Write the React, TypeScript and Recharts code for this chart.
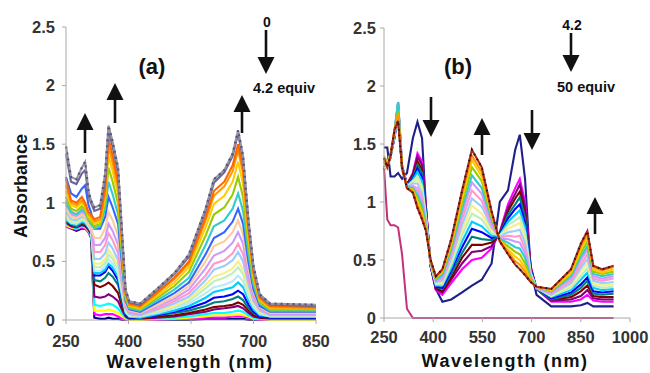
import React from "react";
import { LineChart, Line, XAxis, YAxis } from "recharts";

// ---- panel (a): 0 -> 4.2 equiv ----
const A_NM = [250, 262, 275, 288, 296, 304, 310, 318, 332, 344, 352, 362, 375, 385, 393, 402, 428, 470, 510, 545, 585, 605, 630, 650, 663, 675, 688, 700, 715, 740, 850];

const A_00 = [0.8, 0.78, 0.76, 0.78, 0.78, 0.75, 0.7, 0.02, 0.01, 0.01, 0.02, 0.01, 0.01, 0, 0, 0, 0, 0, 0, 0, 0.01, 0.01, 0.01, 0.01, 0.01, 0.01, 0, 0, 0, 0, 0];
const A_01 = [0.8, 0.78, 0.77, 0.79, 0.78, 0.75, 0.71, 0.05, 0.04, 0.05, 0.05, 0.05, 0.03, 0.01, 0, 0, 0, 0, 0.01, 0.01, 0.02, 0.02, 0.02, 0.03, 0.03, 0.03, 0.02, 0.01, 0, 0, 0];
const A_02 = [0.81, 0.79, 0.78, 0.8, 0.79, 0.76, 0.72, 0.08, 0.08, 0.08, 0.09, 0.08, 0.06, 0.03, 0.01, 0, 0, 0.01, 0.01, 0.02, 0.03, 0.04, 0.04, 0.04, 0.05, 0.04, 0.03, 0.01, 0.01, 0, 0];
const A_03 = [0.82, 0.8, 0.78, 0.8, 0.8, 0.76, 0.72, 0.13, 0.12, 0.13, 0.14, 0.13, 0.1, 0.05, 0.02, 0.01, 0.01, 0.02, 0.02, 0.03, 0.05, 0.06, 0.06, 0.07, 0.08, 0.07, 0.04, 0.02, 0.01, 0.01, 0.01];
const A_04 = [0.83, 0.8, 0.79, 0.81, 0.8, 0.77, 0.73, 0.2, 0.19, 0.2, 0.22, 0.2, 0.16, 0.08, 0.03, 0.01, 0.01, 0.02, 0.03, 0.05, 0.07, 0.09, 0.1, 0.11, 0.12, 0.1, 0.06, 0.03, 0.02, 0.01, 0.01];
const A_05 = [0.84, 0.81, 0.8, 0.82, 0.81, 0.78, 0.74, 0.3, 0.28, 0.3, 0.32, 0.29, 0.23, 0.11, 0.04, 0.01, 0.01, 0.03, 0.04, 0.06, 0.09, 0.11, 0.12, 0.13, 0.15, 0.13, 0.08, 0.04, 0.02, 0.02, 0.02];
const A_06 = [0.85, 0.82, 0.8, 0.83, 0.82, 0.79, 0.75, 0.34, 0.33, 0.36, 0.4, 0.37, 0.3, 0.15, 0.05, 0.02, 0.02, 0.04, 0.06, 0.08, 0.12, 0.15, 0.16, 0.18, 0.2, 0.17, 0.1, 0.06, 0.03, 0.02, 0.02];
const A_07 = [0.88, 0.84, 0.82, 0.86, 0.85, 0.8, 0.76, 0.38, 0.38, 0.41, 0.46, 0.42, 0.34, 0.17, 0.05, 0.02, 0.02, 0.04, 0.07, 0.1, 0.15, 0.19, 0.2, 0.22, 0.25, 0.22, 0.13, 0.07, 0.03, 0.02, 0.02];
const A_08 = [0.86, 0.82, 0.81, 0.84, 0.83, 0.79, 0.76, 0.4, 0.4, 0.43, 0.48, 0.45, 0.37, 0.19, 0.06, 0.03, 0.02, 0.05, 0.08, 0.12, 0.19, 0.24, 0.26, 0.28, 0.32, 0.28, 0.17, 0.09, 0.04, 0.03, 0.03];
const A_09 = [0.87, 0.83, 0.82, 0.85, 0.84, 0.8, 0.76, 0.42, 0.42, 0.46, 0.52, 0.48, 0.4, 0.21, 0.07, 0.03, 0.03, 0.06, 0.1, 0.14, 0.23, 0.28, 0.3, 0.33, 0.38, 0.33, 0.2, 0.11, 0.05, 0.03, 0.03];
const A_10 = [0.88, 0.84, 0.83, 0.86, 0.85, 0.8, 0.77, 0.45, 0.45, 0.49, 0.56, 0.52, 0.43, 0.23, 0.08, 0.04, 0.03, 0.07, 0.11, 0.16, 0.27, 0.33, 0.36, 0.4, 0.45, 0.39, 0.23, 0.13, 0.06, 0.03, 0.03];
const A_11 = [0.9, 0.85, 0.84, 0.87, 0.86, 0.81, 0.77, 0.48, 0.48, 0.52, 0.6, 0.55, 0.46, 0.25, 0.09, 0.04, 0.04, 0.08, 0.12, 0.18, 0.3, 0.37, 0.4, 0.44, 0.5, 0.43, 0.26, 0.14, 0.07, 0.04, 0.04];
const A_12 = [0.92, 0.86, 0.85, 0.88, 0.87, 0.82, 0.78, 0.52, 0.52, 0.57, 0.66, 0.61, 0.51, 0.28, 0.1, 0.05, 0.04, 0.09, 0.14, 0.2, 0.34, 0.43, 0.46, 0.51, 0.58, 0.5, 0.3, 0.16, 0.08, 0.04, 0.04];
const A_13 = [1.02, 0.93, 0.9, 0.95, 0.96, 0.86, 0.8, 0.58, 0.58, 0.64, 0.74, 0.68, 0.57, 0.31, 0.11, 0.06, 0.05, 0.1, 0.16, 0.23, 0.38, 0.48, 0.51, 0.57, 0.65, 0.56, 0.34, 0.18, 0.09, 0.05, 0.05];
const A_14 = [0.98, 0.9, 0.88, 0.92, 0.9, 0.84, 0.78, 0.64, 0.64, 0.7, 0.82, 0.76, 0.64, 0.35, 0.12, 0.07, 0.05, 0.12, 0.18, 0.26, 0.44, 0.55, 0.59, 0.66, 0.75, 0.65, 0.39, 0.21, 0.1, 0.05, 0.05];
const A_15 = [0.95, 0.88, 0.87, 0.9, 0.88, 0.82, 0.78, 0.7, 0.7, 0.78, 0.92, 0.85, 0.72, 0.4, 0.14, 0.08, 0.06, 0.13, 0.2, 0.29, 0.5, 0.63, 0.67, 0.75, 0.85, 0.73, 0.44, 0.24, 0.11, 0.06, 0.06];
const A_16 = [1.22, 1.08, 1.05, 1.12, 1.15, 0.98, 0.92, 0.78, 0.78, 0.88, 1.05, 0.96, 0.82, 0.45, 0.16, 0.09, 0.07, 0.15, 0.23, 0.32, 0.56, 0.7, 0.75, 0.84, 0.95, 0.82, 0.49, 0.26, 0.12, 0.07, 0.07];
const A_17 = [1.0, 0.92, 0.9, 0.94, 0.92, 0.85, 0.82, 0.78, 0.8, 0.95, 1.18, 1.07, 0.9, 0.5, 0.18, 0.1, 0.08, 0.17, 0.26, 0.36, 0.64, 0.8, 0.85, 0.95, 1.08, 0.93, 0.56, 0.3, 0.14, 0.08, 0.08];
const A_18 = [1.05, 0.95, 0.93, 0.97, 0.94, 0.86, 0.84, 0.8, 0.82, 1.0, 1.3, 1.18, 0.99, 0.55, 0.19, 0.11, 0.09, 0.19, 0.29, 0.41, 0.72, 0.9, 0.96, 1.07, 1.22, 1.05, 0.63, 0.34, 0.15, 0.09, 0.09];
const A_19 = [1.1, 0.98, 0.96, 1.0, 0.96, 0.88, 0.86, 0.82, 0.84, 1.04, 1.4, 1.27, 1.07, 0.59, 0.21, 0.12, 0.1, 0.21, 0.32, 0.45, 0.79, 0.99, 1.06, 1.18, 1.35, 1.16, 0.7, 0.37, 0.17, 0.1, 0.1];
const A_20 = [1.15, 1.0, 0.98, 1.02, 0.98, 0.9, 0.88, 0.84, 0.86, 1.08, 1.48, 1.34, 1.13, 0.62, 0.22, 0.13, 0.11, 0.23, 0.35, 0.48, 0.85, 1.06, 1.14, 1.27, 1.45, 1.25, 0.75, 0.4, 0.18, 0.11, 0.1];
const A_21 = [1.2, 1.02, 1.0, 1.05, 1.0, 0.92, 0.9, 0.86, 0.88, 1.12, 1.55, 1.4, 1.18, 0.65, 0.23, 0.14, 0.12, 0.24, 0.36, 0.5, 0.88, 1.1, 1.18, 1.32, 1.5, 1.29, 0.78, 0.41, 0.19, 0.12, 0.11];
const A_22 = [1.42, 1.18, 1.16, 1.25, 1.28, 1.06, 1.0, 0.93, 0.95, 1.2, 1.62, 1.48, 1.26, 0.7, 0.25, 0.15, 0.13, 0.26, 0.39, 0.54, 0.93, 1.17, 1.26, 1.4, 1.59, 1.37, 0.83, 0.44, 0.21, 0.13, 0.12];
const A_23 = [1.48, 1.22, 1.2, 1.3, 1.35, 1.1, 1.02, 0.96, 0.98, 1.25, 1.66, 1.52, 1.3, 0.72, 0.26, 0.16, 0.14, 0.27, 0.4, 0.56, 0.95, 1.2, 1.28, 1.42, 1.62, 1.4, 0.85, 0.46, 0.22, 0.14, 0.13];

const A_SERIES = [A_00, A_01, A_02, A_03, A_04, A_05, A_06, A_07, A_08, A_09, A_10, A_11, A_12, A_13, A_14, A_15, A_16, A_17, A_18, A_19, A_20, A_21, A_22, A_23];
const A_COLORS = ["#000080", "#ff00ff", "#ffff00", "#00ffff", "#800080", "#800000", "#008080", "#0000ff", "#00ccff", "#b8ecf4", "#bfeebb", "#f2f08c", "#99ccff", "#ff99cc", "#cc99ff", "#ffcc99", "#3366ff", "#33cccc", "#99cc00", "#ffcc00", "#ff9900", "#ff6600", "#666699", "#969696"];

// ---- panel (b): 4.2 -> 50 equiv ----
const B_NM = [250, 260, 270, 282, 293, 305, 320, 338, 352, 366, 378, 392, 408, 428, 455, 488, 518, 548, 578, 603, 628, 650, 664, 680, 697, 715, 760, 820, 850, 870, 888, 915, 950];

const B_BLANK = [1.3, 0.85, 0.8, 0.8, 0.78, 0.55, 0.08, 0, 0, 0, 0, 0, 0, 0, 0, 0, 0, 0, 0, 0, 0, 0, 0, 0, 0, 0, 0, 0, 0, 0, 0, 0, 0];
const B_START = [1.47, 1.47, 1.22, 1.22, 1.25, 1.2, 1.25, 1.55, 1.69, 1.55, 0.95, 0.45, 0.25, 0.14, 0.16, 0.22, 0.28, 0.33, 0.47, 1.0, 1.1, 1.45, 1.58, 1.2, 0.42, 0.2, 0.1, 0.1, 0.11, 0.13, 0.1, 0.1, 0.1];
const B_01 = [1.3, 1.35, 1.4, 1.55, 1.75, 1.3, 1.15, 1.25, 1.42, 1.35, 0.95, 0.45, 0.24, 0.2, 0.3, 0.42, 0.5, 0.52, 0.6, 0.74, 0.98, 1.12, 1.2, 1.0, 0.45, 0.25, 0.14, 0.14, 0.16, 0.2, 0.15, 0.14, 0.14];
const B_02 = [1.33, 1.35, 1.4, 1.56, 1.8, 1.3, 1.15, 1.24, 1.39, 1.32, 0.94, 0.45, 0.25, 0.22, 0.33, 0.47, 0.57, 0.58, 0.62, 0.73, 0.95, 1.07, 1.15, 0.96, 0.44, 0.25, 0.15, 0.16, 0.19, 0.24, 0.17, 0.16, 0.16];
const B_03 = [1.28, 1.34, 1.4, 1.57, 1.84, 1.3, 1.15, 1.23, 1.35, 1.28, 0.92, 0.46, 0.26, 0.23, 0.35, 0.52, 0.63, 0.63, 0.65, 0.73, 0.92, 1.03, 1.09, 0.91, 0.43, 0.25, 0.16, 0.18, 0.23, 0.28, 0.19, 0.18, 0.18];
const B_04 = [1.35, 1.36, 1.42, 1.56, 1.78, 1.28, 1.14, 1.21, 1.32, 1.25, 0.91, 0.46, 0.27, 0.25, 0.38, 0.56, 0.7, 0.68, 0.67, 0.72, 0.89, 0.98, 1.04, 0.87, 0.42, 0.25, 0.16, 0.2, 0.26, 0.32, 0.21, 0.2, 0.21];
const B_05 = [1.3, 1.32, 1.38, 1.6, 1.86, 1.32, 1.14, 1.2, 1.29, 1.21, 0.89, 0.46, 0.27, 0.26, 0.41, 0.61, 0.77, 0.74, 0.69, 0.72, 0.86, 0.94, 0.98, 0.82, 0.41, 0.26, 0.17, 0.22, 0.29, 0.35, 0.23, 0.22, 0.23];
const B_06 = [1.36, 1.33, 1.4, 1.57, 1.72, 1.3, 1.14, 1.19, 1.26, 1.18, 0.88, 0.47, 0.28, 0.28, 0.43, 0.66, 0.83, 0.79, 0.71, 0.71, 0.83, 0.89, 0.93, 0.78, 0.4, 0.26, 0.18, 0.24, 0.33, 0.39, 0.26, 0.24, 0.25];
const B_07 = [1.31, 1.34, 1.41, 1.58, 1.8, 1.31, 1.13, 1.18, 1.22, 1.14, 0.87, 0.47, 0.29, 0.29, 0.46, 0.71, 0.9, 0.85, 0.73, 0.71, 0.8, 0.84, 0.87, 0.74, 0.39, 0.26, 0.19, 0.26, 0.36, 0.43, 0.28, 0.26, 0.27];
const B_08 = [1.29, 1.31, 1.39, 1.6, 1.85, 1.29, 1.13, 1.17, 1.19, 1.11, 0.85, 0.47, 0.3, 0.31, 0.49, 0.75, 0.97, 0.9, 0.76, 0.7, 0.77, 0.8, 0.82, 0.69, 0.38, 0.26, 0.19, 0.28, 0.4, 0.47, 0.3, 0.28, 0.29];
const B_09 = [1.37, 1.32, 1.4, 1.59, 1.76, 1.3, 1.13, 1.16, 1.16, 1.07, 0.84, 0.48, 0.31, 0.32, 0.51, 0.8, 1.03, 0.96, 0.78, 0.7, 0.74, 0.75, 0.76, 0.65, 0.37, 0.26, 0.2, 0.3, 0.43, 0.51, 0.32, 0.3, 0.31];
const B_10 = [1.32, 1.33, 1.42, 1.61, 1.82, 1.31, 1.13, 1.14, 1.12, 1.04, 0.82, 0.48, 0.32, 0.34, 0.54, 0.85, 1.1, 1.01, 0.8, 0.69, 0.71, 0.7, 0.71, 0.6, 0.36, 0.26, 0.21, 0.32, 0.46, 0.55, 0.34, 0.32, 0.34];
const B_11 = [1.34, 1.31, 1.4, 1.6, 1.74, 1.3, 1.13, 1.13, 1.09, 1.0, 0.81, 0.49, 0.32, 0.35, 0.57, 0.9, 1.17, 1.07, 0.82, 0.68, 0.68, 0.66, 0.65, 0.56, 0.35, 0.26, 0.22, 0.34, 0.5, 0.59, 0.36, 0.34, 0.36];
const B_12 = [1.38, 1.31, 1.39, 1.62, 1.86, 1.3, 1.13, 1.12, 1.06, 0.97, 0.8, 0.49, 0.33, 0.37, 0.59, 0.94, 1.23, 1.12, 0.85, 0.68, 0.65, 0.61, 0.6, 0.52, 0.34, 0.27, 0.23, 0.36, 0.53, 0.62, 0.38, 0.36, 0.38];
const B_13 = [1.35, 1.3, 1.41, 1.61, 1.78, 1.3, 1.12, 1.11, 1.03, 0.93, 0.78, 0.49, 0.34, 0.39, 0.62, 0.99, 1.3, 1.18, 0.87, 0.67, 0.62, 0.57, 0.55, 0.47, 0.33, 0.27, 0.23, 0.38, 0.56, 0.66, 0.4, 0.38, 0.4];
const B_14 = [1.4, 1.32, 1.4, 1.61, 1.72, 1.3, 1.12, 1.1, 1.0, 0.9, 0.77, 0.5, 0.35, 0.4, 0.64, 1.03, 1.36, 1.22, 0.89, 0.67, 0.59, 0.53, 0.5, 0.43, 0.32, 0.27, 0.24, 0.39, 0.59, 0.7, 0.42, 0.39, 0.42];
const B_15 = [1.36, 1.3, 1.4, 1.62, 1.76, 1.3, 1.12, 1.09, 0.97, 0.88, 0.76, 0.5, 0.35, 0.41, 0.66, 1.07, 1.4, 1.26, 0.9, 0.66, 0.57, 0.49, 0.46, 0.4, 0.32, 0.27, 0.25, 0.41, 0.62, 0.72, 0.44, 0.41, 0.44];
const B_END = [1.38, 1.3, 1.4, 1.62, 1.7, 1.3, 1.12, 1.08, 0.95, 0.85, 0.75, 0.5, 0.36, 0.42, 0.68, 1.1, 1.45, 1.3, 0.92, 0.66, 0.55, 0.46, 0.42, 0.37, 0.31, 0.27, 0.25, 0.42, 0.64, 0.75, 0.45, 0.42, 0.45];

const B_SERIES = [B_START, B_01, B_02, B_03, B_04, B_05, B_06, B_07, B_08, B_09, B_10, B_11, B_12, B_13, B_14, B_15, B_END];
const B_COLORS = ["#1f1f8a", "#ff00ff", "#800080", "#800000", "#008080", "#0000ff", "#00ccff", "#bfeebb", "#f2f08c", "#99ccff", "#ff99cc", "#cc99ff", "#33cccc", "#99cc00", "#ffcc00", "#ff9900", "#b0281c"];

const Y_TICKS = [0, 0.5, 1, 1.5, 2, 2.5];
const A_TICKS = [250, 400, 550, 700, 850];
const B_TICKS = [250, 400, 550, 700, 850, 1000];

const FONT = "'Liberation Sans', Arial, Helvetica, sans-serif";
const tickStyle = { fontSize: 16.5, fontWeight: "bold", fill: "#333", fontFamily: FONT };
const axisGrey = { stroke: "#a8a8a8" };

function toRows(nm: number[], series: number[][]) {
  return nm.map((w, i) => {
    const row: Record<string, number> = { nm: w };
    series.forEach((s, j) => {
      row["s" + j] = s[i];
    });
    return row;
  });
}

const rowsA = toRows(A_NM, A_SERIES);
const rowsB = toRows(B_NM, [...B_SERIES, B_BLANK]);

function Arrow({ x, from, to }: { x: number; from: number; to: number }) {
  const dir = to > from ? 1 : -1;
  const head = 17;
  const base = to - dir * head;
  return (
    <g>
      <line x1={x} y1={from} x2={x} y2={base} stroke="#111" strokeWidth={2.6} />
      <polygon points={`${x - 8.5},${base} ${x + 8.5},${base} ${x},${to}`} fill="#111" />
    </g>
  );
}

export default function App() {
  return (
    <div style={{ position: "absolute", left: 0, top: 0, width: 650, height: 373, background: "#fff", overflow: "hidden" }}>
      <div style={{ position: "absolute", left: 0, top: 0 }}>
        <LineChart width={340} height={373} data={rowsA} margin={{ top: 27, right: 24, bottom: 23, left: 6 }}>
          <XAxis
            type="number"
            dataKey="nm"
            domain={[250, 850]}
            ticks={A_TICKS}
            interval={0}
            height={30}
            tickSize={4}
            tickMargin={11}
            axisLine={axisGrey}
            tickLine={axisGrey}
            tick={tickStyle}
          />
          <YAxis
            type="number"
            domain={[0, 2.5]}
            ticks={Y_TICKS}
            interval={0}
            width={60}
            tickSize={4}
            tickMargin={7}
            axisLine={axisGrey}
            tickLine={axisGrey}
            tick={tickStyle}
          />
          {A_SERIES.map((_, j) => (
            <Line
              key={j}
              dataKey={"s" + j}
              type="linear"
              stroke={A_COLORS[j]}
              strokeWidth={2.1}
              dot={false}
              isAnimationActive={false}
            />
          ))}
          <Line
            dataKey={"s" + (A_SERIES.length - 1)}
            type="linear"
            stroke="#5b4d8c"
            strokeWidth={2.2}
            strokeDasharray="2 4"
            dot={false}
            isAnimationActive={false}
          />
        </LineChart>
      </div>

      <div style={{ position: "absolute", left: 330, top: 0 }}>
        <LineChart width={320} height={373} data={rowsB} margin={{ top: 28, right: 20, bottom: 25, left: 4 }}>
          <XAxis
            type="number"
            dataKey="nm"
            domain={[250, 1000]}
            ticks={B_TICKS}
            interval={0}
            height={30}
            tickSize={4}
            tickMargin={9}
            axisLine={axisGrey}
            tickLine={axisGrey}
            tick={tickStyle}
          />
          <YAxis
            type="number"
            domain={[0, 2.5]}
            ticks={Y_TICKS}
            interval={0}
            width={50}
            tickSize={4}
            tickMargin={4}
            axisLine={axisGrey}
            tickLine={axisGrey}
            tick={tickStyle}
          />
          <Line
            dataKey={"s" + B_SERIES.length}
            type="linear"
            stroke="#c4307a"
            strokeWidth={2}
            dot={false}
            isAnimationActive={false}
          />
          {B_SERIES.map((_, j) => (
            <Line
              key={j}
              dataKey={"s" + j}
              type="linear"
              stroke={B_COLORS[j]}
              strokeWidth={2.1}
              dot={false}
              isAnimationActive={false}
            />
          ))}
          <Line
            dataKey={"s" + (B_SERIES.length - 1)}
            type="linear"
            stroke="#1a1a1a"
            strokeWidth={2}
            strokeDasharray="1.5 4"
            dot={false}
            isAnimationActive={false}
          />
        </LineChart>
      </div>

      <svg width={650} height={373} style={{ position: "absolute", left: 0, top: 0, pointerEvents: "none" }}>
        <g fontFamily={FONT} fontWeight="bold" fill="#111">
          <text x={27} y={186} fontSize={18} textAnchor="middle" transform="rotate(-90 27 186)">
            Absorbance
          </text>
          <text x={190} y={368} fontSize={18} textAnchor="middle" letterSpacing={1.5}>
            Wavelength (nm)
          </text>
          <text x={505} y={367} fontSize={18} textAnchor="middle" letterSpacing={1.5}>
            Wavelength (nm)
          </text>
          <text x={152} y={74} fontSize={22} textAnchor="middle">(a)</text>
          <text x={458} y={74} fontSize={22} textAnchor="middle">(b)</text>

          <text x={267} y={27} fontSize={14} textAnchor="middle">0</text>
          <text x={253} y={93} fontSize={14.5}>4.2 equiv</text>
          <text x={572} y={30} fontSize={14} textAnchor="middle">4.2</text>
          <text x={557} y={92} fontSize={14.5}>50 equiv</text>
        </g>
        <Arrow x={266} from={30} to={74} />
        <Arrow x={571} from={33} to={72} />

        <Arrow x={85} from={153} to={113} />
        <Arrow x={115} from={123} to={83} />
        <Arrow x={242} from={133} to={95} />

        <Arrow x={431} from={97} to={137} />
        <Arrow x={482} from={155} to={118} />
        <Arrow x={532} from={110} to={150} />
        <Arrow x={595} from={234} to={197} />
      </svg>
    </div>
  );
}
